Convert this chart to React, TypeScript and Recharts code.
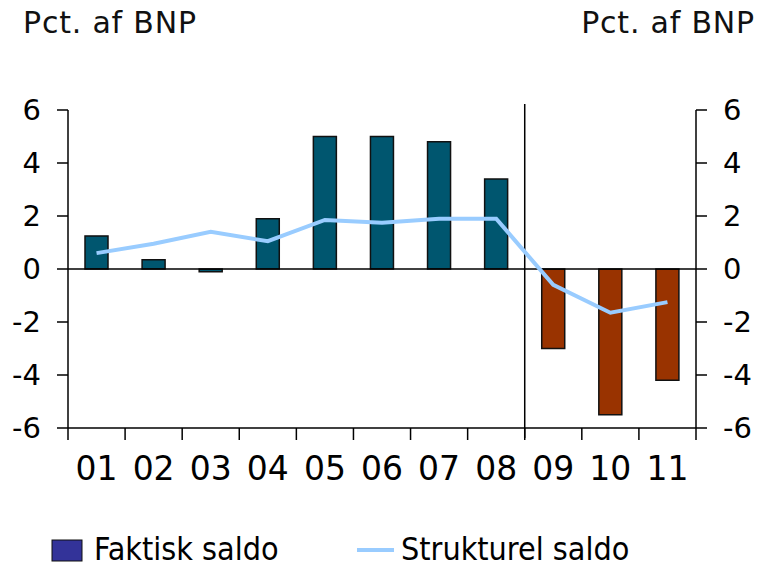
import React from "react";
import {
  ComposedChart,
  Bar,
  Line,
  XAxis,
  YAxis,
  ReferenceLine,
  Cell,
} from "recharts";

const years = ["01", "02", "03", "04", "05", "06", "07", "08", "09", "10", "11"];
const faktisk = [1.25, 0.35, -0.1, 1.9, 5.0, 5.0, 4.8, 3.4, -3.0, -5.5, -4.2];
const strukturel = [0.6, 0.95, 1.4, 1.05, 1.85, 1.75, 1.9, 1.9, -0.6, -1.65, -1.25];
const yTicks = [-6, -4, -2, 0, 2, 4, 6];

const data = years.map((y, i) => ({
  year: y,
  faktisk: faktisk[i],
  strukturel: strukturel[i],
}));

const TEAL = "#00566F";
const RED = "#993300";
const LIGHT = "#99CCFF";
const AXIS = "#000";
const SANS = "'DejaVu Sans', sans-serif";
const CONDENSED = "'DejaVu Sans Condensed', 'DejaVu Sans', sans-serif";
const TICK_LEN = 11;

function CatTick(props: any) {
  const { x, y, payload, index, visibleTicksCount } = props;
  const half = payload && payload.offset ? payload.offset : 0;
  const isLast = index === (visibleTicksCount ? visibleTicksCount - 1 : years.length - 1);
  return (
    <g>
      <line x1={x - half} x2={x - half} y1={y} y2={y + 12} stroke={AXIS} strokeWidth={1.5} />
      {isLast && (
        <line x1={x + half} x2={x + half} y1={y} y2={y + 12} stroke={AXIS} strokeWidth={1.5} />
      )}
      <text x={x} y={y + 29} dy="0.71em" textAnchor="middle" fontSize={33} fontFamily={SANS} fill="#000">
        {payload.value}
      </text>
    </g>
  );
}

function YTick(props: any) {
  const { x, y, payload, side } = props;
  const right = side === "right";
  return (
    <text
      x={right ? x + 27 : x - 27}
      y={y}
      dy="0.355em"
      textAnchor={right ? "start" : "end"}
      fontSize={29}
      fontFamily={SANS}
      fill="#000"
    >
      {payload.value}
    </text>
  );
}

function SideTicks(props: any) {
  const { x1, x2, y1 } = props;
  const left = Math.min(x1, x2);
  const right = Math.max(x1, x2);
  return (
    <g>
      <line x1={left - TICK_LEN} x2={left} y1={y1} y2={y1} stroke={AXIS} strokeWidth={1.5} />
      <line x1={right} x2={right + TICK_LEN} y1={y1} y2={y1} stroke={AXIS} strokeWidth={1.5} />
    </g>
  );
}

function ZeroLine(props: any) {
  const { x1, x2, y1 } = props;
  const left = Math.min(x1, x2);
  const right = Math.max(x1, x2);
  return (
    <g>
      <line x1={left} x2={right} y1={y1} y2={y1} stroke={AXIS} strokeWidth={1.5} />
      <line x1={left - TICK_LEN} x2={left} y1={y1} y2={y1} stroke={AXIS} strokeWidth={1.5} />
      <line x1={right} x2={right + TICK_LEN} y1={y1} y2={y1} stroke={AXIS} strokeWidth={1.5} />
    </g>
  );
}

function Divider(props: any) {
  const { x1, y1, y2 } = props;
  const top = Math.min(y1, y2);
  const bottom = Math.max(y1, y2);
  return <line x1={x1} x2={x1} y1={top - 6} y2={bottom + 10} stroke={AXIS} strokeWidth={1.5} />;
}

export default function App() {
  return (
    <div style={{ position: "absolute", left: 0, top: 0, width: 763, height: 568, background: "#fff" }}>
      <ComposedChart
        width={763}
        height={568}
        data={data}
        margin={{ top: 110, right: 7, bottom: 100, left: 8 }}
      >
        <XAxis
          xAxisId="cat"
          dataKey="year"
          height={40}
          stroke={AXIS}
          strokeWidth={1.5}
          axisLine={true}
          tickLine={false}
          tickSize={0}
          tickMargin={0}
          interval={0}
          tick={<CatTick />}
        />
        <YAxis
          yAxisId="left"
          orientation="left"
          width={60}
          type="number"
          domain={[-6, 6]}
          ticks={yTicks}
          tickSize={0}
          tickMargin={0}
          interval={0}
          stroke={AXIS}
          strokeWidth={1.5}
          axisLine={true}
          tickLine={false}
          tick={(p: any) => <YTick {...p} side="left" />}
        />
        <YAxis
          yAxisId="right"
          orientation="right"
          width={60}
          type="number"
          domain={[-6, 6]}
          ticks={yTicks}
          tickSize={0}
          tickMargin={0}
          interval={0}
          stroke={AXIS}
          strokeWidth={1.5}
          axisLine={true}
          tickLine={false}
          tick={(p: any) => <YTick {...p} side="right" />}
        />
        <Bar
          xAxisId="cat"
          yAxisId="left"
          dataKey="faktisk"
          barSize={23}
          stroke="#111"
          strokeWidth={1.5}
          isAnimationActive={false}
        >
          {data.map((d, i) => (
            <Cell key={i} fill={i >= 8 ? RED : TEAL} />
          ))}
        </Bar>
        {yTicks
          .filter((v) => v !== 0)
          .map((v) => (
            <ReferenceLine
              key={v}
              xAxisId="cat"
              yAxisId="left"
              y={v}
              ifOverflow="visible"
              shape={(p: any) => <SideTicks {...p} />}
            />
          ))}
        <ReferenceLine
          xAxisId="cat"
          yAxisId="left"
          y={0}
          ifOverflow="visible"
          shape={(p: any) => <ZeroLine {...p} />}
        />
        <ReferenceLine
          xAxisId="cat"
          yAxisId="left"
          x="09"
          position="start"
          ifOverflow="visible"
          shape={(p: any) => <Divider {...p} />}
        />
        <Line
          xAxisId="cat"
          yAxisId="right"
          dataKey="strukturel"
          stroke={LIGHT}
          strokeWidth={4}
          dot={false}
          isAnimationActive={false}
        />
      </ComposedChart>
      <svg
        width={763}
        height={568}
        style={{ position: "absolute", left: 0, top: 0, pointerEvents: "none" }}
      >
        <text x={23} y={33} fontSize={30} letterSpacing={0.8} fontFamily={SANS} fill="#111">
          Pct. af BNP
        </text>
        <text x={755} y={33} fontSize={30} letterSpacing={0.8} fontFamily={SANS} fill="#111" textAnchor="end">
          Pct. af BNP
        </text>
        <rect x={52} y={540} width={30} height={21} fill="#333399" stroke="#111" strokeWidth={1} />
        <text x={94} y={560} fontSize={32} fontFamily={CONDENSED} style={{ fontStretch: "condensed" }} fill="#000">
          Faktisk saldo
        </text>
        <line x1={357} x2={394} y1={550} y2={550} stroke={LIGHT} strokeWidth={4} />
        <text x={401} y={560} fontSize={32} fontFamily={CONDENSED} style={{ fontStretch: "condensed" }} fill="#000">
          Strukturel saldo
        </text>
      </svg>
    </div>
  );
}
